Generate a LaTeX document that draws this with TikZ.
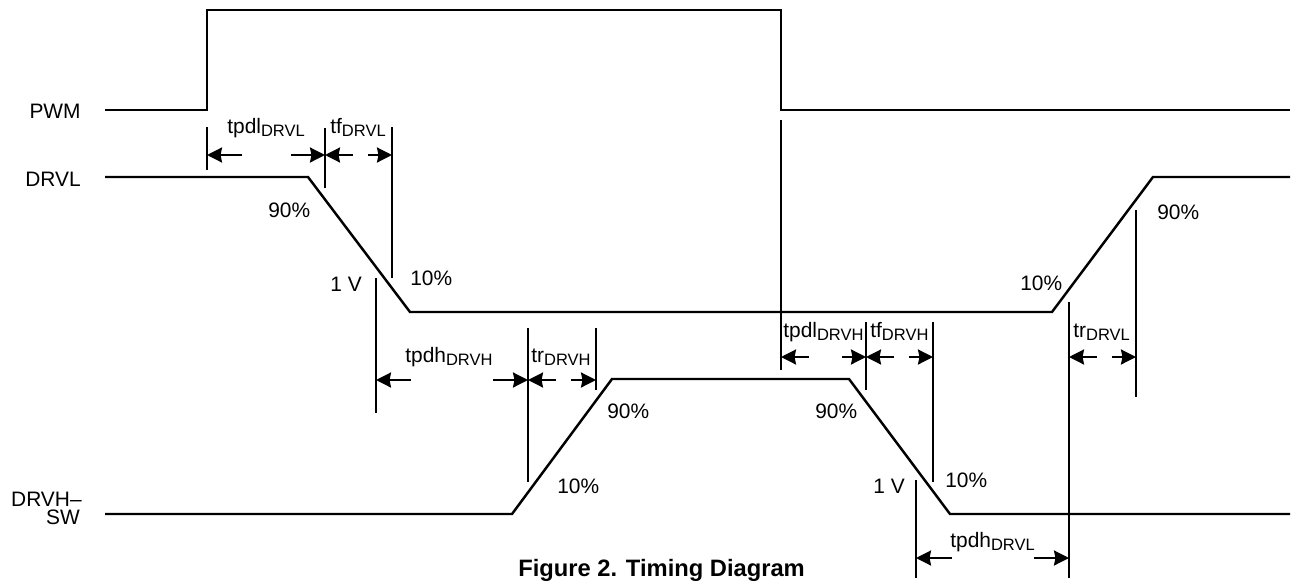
\documentclass[tikz,border=0pt]{standalone}
\usepackage{fontspec}
\setmainfont{Liberation Sans}
\usetikzlibrary{arrows.meta}

% subscript as printed in the timing labels
\newcommand{\tsub}[1]{\raisebox{-0.35ex}{\fontsize{9.4}{11}\selectfont #1}}

\tikzset{
  pwmline/.style={line width=1.1pt, line join=miter},
  signal/.style={line width=1.4pt, line join=miter},
  marker/.style={line width=1.3pt},
  dimarrow/.style={line width=1.3pt, -{Stealth[length=0.3cm,width=0.3cm,inset=0.03cm]}},
  lbl/.style={anchor=base west, inner sep=0pt, font=\fontsize{11.9}{14}\selectfont},
  signame/.style={anchor=base east, inner sep=0pt, font=\fontsize{11.9}{14}\selectfont},
}

\begin{document}
\begin{tikzpicture}[x=0.02cm, y=-0.02cm]
    \useasboundingbox (0,0) rectangle (1296,582);

    % PWM input (square pulse)
    \coordinate (PWM_start) at (105,110);
    \coordinate (PWM_rise_lo) at (207,110);
    \coordinate (PWM_rise_hi) at (207,10);
    \coordinate (PWM_fall_hi) at (781,10);
    \coordinate (PWM_fall_lo) at (781,110);
    \coordinate (PWM_end) at (1290,110);
    \draw[pwmline] (PWM_start) -- (PWM_rise_lo) -- (PWM_rise_hi) -- (PWM_fall_hi) -- (PWM_fall_lo) -- (PWM_end);

    % DRVL (low side gate drive)
    \coordinate (L_start) at (105,177);
    \coordinate (L_fall_hi) at (308,177);
    \coordinate (L_fall_lo) at (410,312);
    \coordinate (L_rise_lo) at (1052,312);
    \coordinate (L_rise_hi) at (1153,177);
    \coordinate (L_end) at (1290,177);
    \draw[signal] (L_start) -- (L_fall_hi) -- (L_fall_lo) -- (L_rise_lo) -- (L_rise_hi) -- (L_end);

    % DRVH-SW (high side gate drive)
    \coordinate (H_start) at (105,514);
    \coordinate (H_rise_lo) at (512,514);
    \coordinate (H_rise_hi) at (612,379);
    \coordinate (H_fall_hi) at (849,379);
    \coordinate (H_fall_lo) at (950,514);
    \coordinate (H_end) at (1290,514);
    \draw[signal] (H_start) -- (H_rise_lo) -- (H_rise_hi) -- (H_fall_hi) -- (H_fall_lo) -- (H_end);

    % Vertical reference lines
    \draw[marker] (207,127) -- (207,170); % PWM rising edge
    \draw[marker] (325,128) -- (325,188); % DRVL 90%
    \draw[marker] (392,127) -- (392,278); % DRVL 10%
    \draw[marker] (376,278) -- (376,413); % DRVL 1 V
    \draw[marker] (528,328) -- (528,482); % DRVH 10%
    \draw[marker] (596,328) -- (596,390); % DRVH 90%
    \draw[marker] (781,120) -- (781,370); % PWM falling edge
    \draw[marker] (866,322) -- (866,390); % DRVH 90%
    \draw[marker] (933,322) -- (933,482); % DRVH 10%
    \draw[marker] (916,480) -- (916,578); % DRVH 1 V
    \draw[marker] (1069,302) -- (1069,578); % DRVL 10%
    \draw[marker] (1136,210) -- (1136,397); % DRVL 90%

    % tpdl(DRVL) and tf(DRVL)
    \coordinate (tpdlL_a) at (242,155); \coordinate (tpdlL_l) at (207,155);
    \coordinate (tpdlL_b) at (291,155); \coordinate (tpdlL_r) at (325,155);
    \coordinate (tfL_a) at (353,155);   \coordinate (tfL_l) at (325,155);
    \coordinate (tfL_b) at (368,155);   \coordinate (tfL_r) at (392,155);
    \draw[dimarrow] (tpdlL_a) -- (tpdlL_l);
    \draw[dimarrow] (tpdlL_b) -- (tpdlL_r);
    \draw[dimarrow] (tfL_a) -- (tfL_l);
    \draw[dimarrow] (tfL_b) -- (tfL_r);

    % tpdh(DRVH) and tr(DRVH)
    \coordinate (tpdhH_a) at (411,380); \coordinate (tpdhH_l) at (376,380);
    \coordinate (tpdhH_b) at (493,380); \coordinate (tpdhH_r) at (528,380);
    \coordinate (trH_a) at (556,380);   \coordinate (trH_l) at (528,380);
    \coordinate (trH_b) at (571,380);   \coordinate (trH_r) at (596,380);
    \draw[dimarrow] (tpdhH_a) -- (tpdhH_l);
    \draw[dimarrow] (tpdhH_b) -- (tpdhH_r);
    \draw[dimarrow] (trH_a) -- (trH_l);
    \draw[dimarrow] (trH_b) -- (trH_r);

    % tpdl(DRVH), tf(DRVH) and tr(DRVL)
    \coordinate (tpdlH_a) at (809,357); \coordinate (tpdlH_l) at (781,357);
    \coordinate (tpdlH_b) at (842,357); \coordinate (tpdlH_r) at (866,357);
    \coordinate (tfH_a) at (894,357);   \coordinate (tfH_l) at (866,357);
    \coordinate (tfH_b) at (909,357);   \coordinate (tfH_r) at (933,357);
    \coordinate (trL_a) at (1097,357);  \coordinate (trL_l) at (1069,357);
    \coordinate (trL_b) at (1112,357);  \coordinate (trL_r) at (1136,357);
    \draw[dimarrow] (tpdlH_a) -- (tpdlH_l);
    \draw[dimarrow] (tpdlH_b) -- (tpdlH_r);
    \draw[dimarrow] (tfH_a) -- (tfH_l);
    \draw[dimarrow] (tfH_b) -- (tfH_r);
    \draw[dimarrow] (trL_a) -- (trL_l);
    \draw[dimarrow] (trL_b) -- (trL_r);

    % tpdh(DRVL)
    \coordinate (tpdhL_a) at (952,558);  \coordinate (tpdhL_l) at (916,558);
    \coordinate (tpdhL_b) at (1034,558); \coordinate (tpdhL_r) at (1069,558);
    \draw[dimarrow] (tpdhL_a) -- (tpdhL_l);
    \draw[dimarrow] (tpdhL_b) -- (tpdhL_r);

    % Signal names
    \node[signame] (pwm_name) at (81,118) {PWM};
    \node[signame] (drvl_name) at (81,186) {DRVL};
    \node[anchor=south east, inner sep=0pt, align=right, font=\fontsize{11.9}{10.2}\selectfont] (drvh_name) at (82,525) {DRVH\textendash\\SW\hspace*{1pt}};

    % Timing labels
    \node[lbl] (tpdlL_txt) at (227,133) {tpdl\tsub{DRVL}};
    \node[lbl] (tfL_txt) at (330,133) {tf\tsub{DRVL}};
    \node[lbl] (tpdhH_txt) at (405,362) {tpdh\tsub{DRVH}};
    \node[lbl] (trH_txt) at (531,362) {tr\tsub{DRVH}};
    \node[lbl] (tpdlH_txt) at (783,337) {tpdl\tsub{DRVH}};
    \node[lbl] (tfH_txt) at (870,337) {tf\tsub{DRVH}};
    \node[lbl] (trL_txt) at (1073,337) {tr\tsub{DRVL}};
    \node[lbl] (tpdhL_txt) at (950,547) {tpdh\tsub{DRVL}};

    % Threshold labels
    \node[lbl] (L90a) at (268,217) {90\%};
    \node[lbl] (L1V) at (330,291) {1 V};
    \node[lbl] (L10a) at (410,285) {10\%};
    \node[lbl] (H10a) at (557,493) {10\%};
    \node[lbl] (H90a) at (607,418) {90\%};
    \node[lbl] (H90b) at (815,418) {90\%};
    \node[lbl] (H1V) at (873,493) {1 V};
    \node[lbl] (H10b) at (945,487) {10\%};
    \node[lbl] (L10b) at (1020,290) {10\%};
    \node[lbl] (L90b) at (1157,219) {90\%};

    % Caption
    \node[anchor=base west, inner sep=0pt, font=\bfseries\fontsize{13.5}{16}\selectfont] (caption) at (518,576) {Figure 2. Timing Diagram};
\end{tikzpicture}
\end{document}
